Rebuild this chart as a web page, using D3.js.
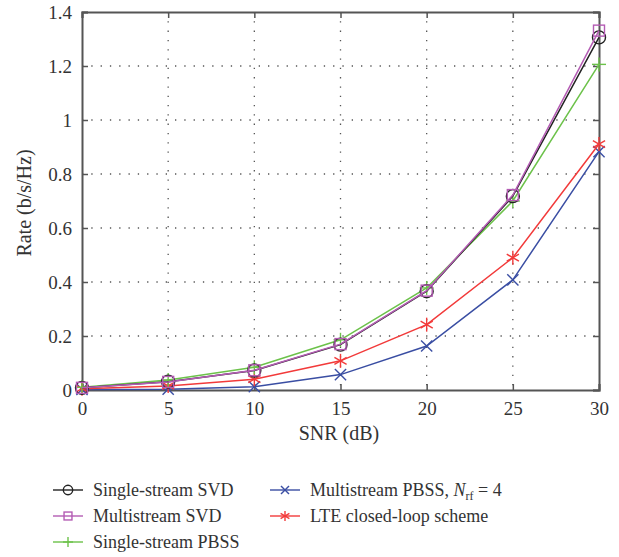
<!DOCTYPE html>
<html>
<head>
<meta charset="utf-8">
<script src="https://cdn.jsdelivr.net/npm/d3@7"></script>
<style>
  body { margin: 0; background: #fff; }
  text { font-family: "Liberation Serif", "DejaVu Serif", serif; fill: #333; }
</style>
</head>
<body>
<svg id="chart" width="619" height="557"></svg>
<script>
var snr = [0, 5, 10, 15, 20, 25, 30];

var singleSVD   = [0.008, 0.031, 0.072, 0.168, 0.366, 0.718, 1.306];
var multiSVD    = [0.008, 0.030, 0.073, 0.170, 0.368, 0.722, 1.331];
var singlePBSS  = [0.010, 0.037, 0.084, 0.186, 0.378, 0.700, 1.206];
var multiPBSS   = [0.002, 0.003, 0.012, 0.057, 0.163, 0.408, 0.883];
var lteScheme   = [0.005, 0.015, 0.040, 0.108, 0.242, 0.490, 0.911];

var xTicks = [0, 5, 10, 15, 20, 25, 30];
var yTicks = [0, 0.2, 0.4, 0.6, 0.8, 1, 1.2, 1.4];

var series = [
  {name: "Single-stream SVD", values: singleSVD, color: "#222222", marker: "circle"},
  {name: "Multistream SVD", values: multiSVD, color: "#b45cb4", marker: "square"},
  {name: "Single-stream PBSS", values: singlePBSS, color: "#6cc24a", marker: "plus"},
  {name: "Multistream PBSS", values: multiPBSS, color: "#3a4ea3", marker: "cross"},
  {name: "LTE closed-loop scheme", values: lteScheme, color: "#f23a3a", marker: "star"}
];

var svg = d3.select("#chart");
var pLeft = 82, pRight = 599, pTop = 12, pBottom = 390;

var x = d3.scaleLinear().domain([0, 30]).range([pLeft, pRight]);
var y = d3.scaleLinear().domain([0, 1.4]).range([pBottom, pTop]);

// grid
var grid = svg.append("g");
xTicks.slice(1, -1).forEach(function(t) {
  grid.append("line").attr("x1", x(t)).attr("x2", x(t)).attr("y1", pTop).attr("y2", pBottom)
    .attr("stroke", "#555").attr("stroke-width", 1.3).attr("stroke-dasharray", "1.3,8");
});
yTicks.slice(1, -1).forEach(function(t) {
  grid.append("line").attr("x1", pLeft).attr("x2", pRight).attr("y1", y(t)).attr("y2", y(t))
    .attr("stroke", "#555").attr("stroke-width", 1.3).attr("stroke-dasharray", "1.3,8");
});

// axes (ticks inside, box all round)
var axB = svg.append("g").attr("transform", "translate(0," + pBottom + ")")
  .call(d3.axisBottom(x).tickValues(xTicks).tickSize(-6).tickPadding(12).tickFormat(d3.format("d")));
var axL = svg.append("g").attr("transform", "translate(" + pLeft + ",0)")
  .call(d3.axisLeft(y).tickValues(yTicks).tickSize(-6).tickPadding(10).tickFormat(function(d) { return String(+d.toFixed(1)); }));
var axT = svg.append("g").attr("transform", "translate(0," + pTop + ")")
  .call(d3.axisTop(x).tickValues(xTicks).tickSize(-6).tickFormat(""));
var axR = svg.append("g").attr("transform", "translate(" + pRight + ",0)")
  .call(d3.axisRight(y).tickValues(yTicks).tickSize(-6).tickFormat(""));

[axB, axL, axT, axR].forEach(function(a) {
  a.selectAll(".domain").attr("stroke", "#555").attr("stroke-width", 2);
  a.selectAll(".tick line").attr("stroke", "#555").attr("stroke-width", 1.5);
  a.selectAll("text").attr("font-size", 19).attr("fill", "#333")
    .attr("font-family", "Liberation Serif, DejaVu Serif, serif");
});

svg.append("text").attr("x", 339).attr("y", 440).attr("text-anchor", "middle")
  .attr("font-size", 20).text("SNR (dB)");
svg.append("text").attr("transform", "translate(31,203) rotate(-90)")
  .attr("text-anchor", "middle").attr("font-size", 20).text("Rate (b/s/Hz)");

function drawMarker(g, type, cx, cy, color, s) {
  if (type === "circle") {
    g.append("circle").attr("cx", cx).attr("cy", cy).attr("r", 6.5 * s)
      .attr("fill", "none").attr("stroke", color).attr("stroke-width", 1.4);
  } else if (type === "square") {
    g.append("rect").attr("x", cx - 5.5 * s).attr("y", cy - 5.5 * s).attr("width", 11 * s).attr("height", 11 * s)
      .attr("fill", "none").attr("stroke", color).attr("stroke-width", 1.4);
  } else {
    var r = 7 * s, p = [];
    if (type === "plus" || type === "star") p.push([0, -r, 0, r]);
    if (type === "plus") p.push([-r, 0, r, 0]);
    if (type === "cross") {
      var k = r * 0.8;
      p.push([-k, -k, k, k]); p.push([-k, k, k, -k]);
    }
    if (type === "star") {
      var a = r * 0.87, b = r * 0.5;
      p.push([-a, -b, a, b]); p.push([-a, b, a, -b]);
    }
    p.forEach(function(q) {
      g.append("line").attr("x1", cx + q[0]).attr("y1", cy + q[1]).attr("x2", cx + q[2]).attr("y2", cy + q[3])
        .attr("stroke", color).attr("stroke-width", 1.4);
    });
  }
}

var line = d3.line().x(function(d, i) { return x(snr[i]); }).y(function(d) { return y(d); });

var order = [3, 4, 2, 0, 1];
order.forEach(function(i) {
  var s = series[i];
  var g = svg.append("g");
  g.append("path").datum(s.values).attr("d", line).attr("fill", "none")
    .attr("stroke", s.color).attr("stroke-width", 1.5);
  s.values.forEach(function(v, j) { drawMarker(g, s.marker, x(snr[j]), y(v), s.color, 1); });
});

// legend
var legendPos = [[53, 490], [53, 516], [53, 542], [270, 490], [270, 516]];
series.forEach(function(s, i) {
  var lx = legendPos[i][0], ly = legendPos[i][1];
  var g = svg.append("g");
  g.append("line").attr("x1", lx).attr("x2", lx + 30).attr("y1", ly).attr("y2", ly)
    .attr("stroke", s.color).attr("stroke-width", 1.4);
  drawMarker(g, s.marker, lx + 15, ly, s.color, 0.72);
  var t = g.append("text").attr("x", lx + 40).attr("y", ly + 6).attr("font-size", 18);
  if (i === 3) {
    t.append("tspan").text("Multistream PBSS, ");
    t.append("tspan").attr("font-style", "italic").text("N");
    t.append("tspan").attr("font-size", 12).attr("dy", 4).text("rf");
    t.append("tspan").attr("dy", -4).text(" = 4");
  } else {
    t.text(s.name);
  }
});
</script>
</body>
</html>
